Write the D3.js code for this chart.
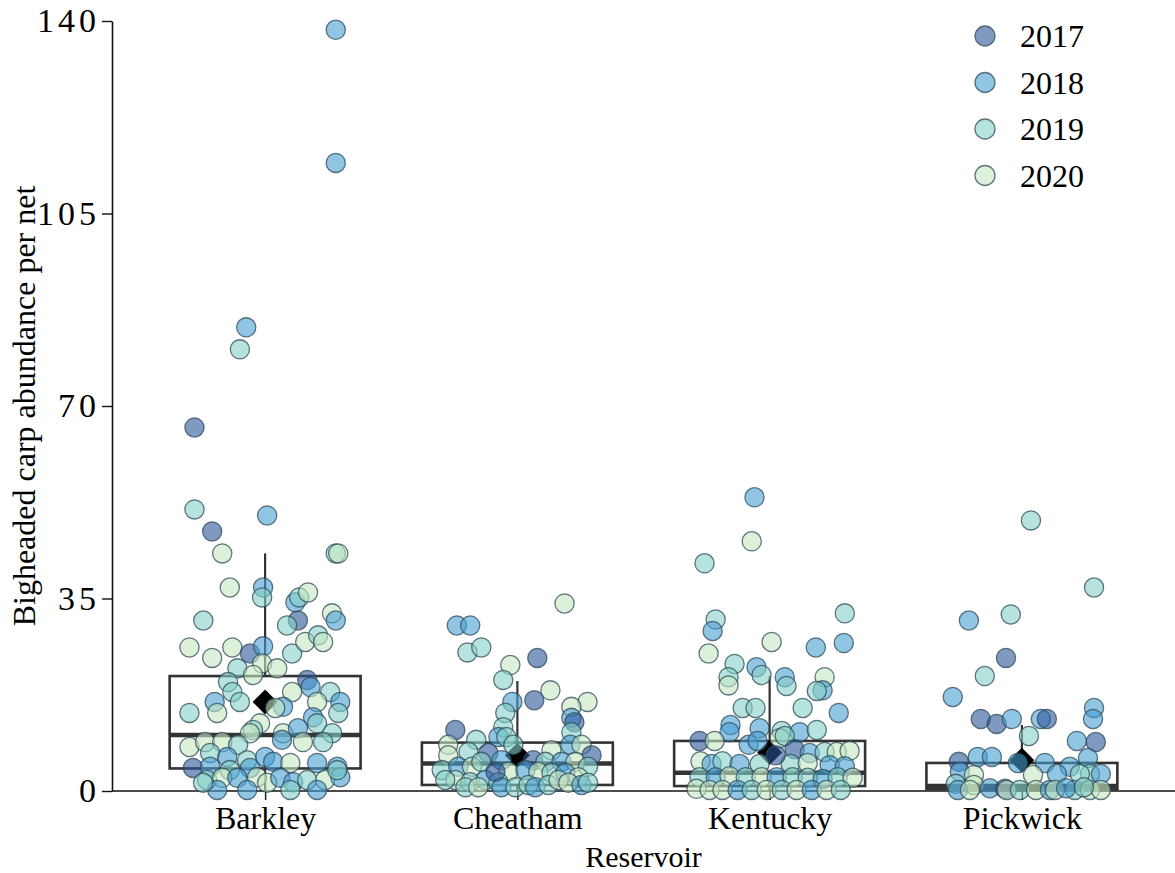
<!DOCTYPE html>
<html>
<head>
<meta charset="utf-8">
<script src="https://cdn.jsdelivr.net/npm/d3@7"></script>
<style>
  html, body { margin: 0; padding: 0; background: #fff; }
  svg { display: block; }
  text { font-family: "Liberation Serif", "Times New Roman", serif; fill: #000; }
</style>
</head>
<body>
<svg id="chart" width="1175" height="873"></svg>
<script>
// Reservoirs and sampling years
const reservoirs = ["Barkley", "Cheatham", "Kentucky", "Pickwick"];
const years = ["2017", "2018", "2019", "2020"];
const yTicks = [0, 35, 70, 105, 140];

// Box-plot summaries per reservoir
const boxQ1 = [4.1, 1.1, 0.9, 0.3];
const boxMedian = [10.2, 5.0, 3.3, 0.9];
const boxQ3 = [20.9, 8.8, 9.1, 5.1];
const whiskerLow = [0, 0, 0, 0];
const whiskerHigh = [43.2, 20.0, 20.9, 12.0];
const meanValue = [16.2, 6.5, 7.0, 5.6];

// Per-net catches: [jitter (fraction of category step), abundance, year]
const barkleyPoints = [
  [0.28,138.4,"2018"],[0.28,114.2,"2018"],[-0.075,84.3,"2018"],[-0.10,80.3,"2019"],
  [-0.28,66.1,"2017"],[-0.28,51.2,"2019"],[-0.21,47.2,"2017"],[0.008,50.1,"2018"],
  [-0.17,43.2,"2020"],[0.28,43.2,"2019"],[0.29,43.2,"2020"],[-0.14,37.0,"2020"],
  [-0.008,37.0,"2018"],[-0.012,35.2,"2019"],[0.12,34.3,"2018"],[0.135,35.2,"2019"],
  [0.17,36.1,"2020"],[0.13,31.0,"2017"],[0.087,30.1,"2019"],[0.265,32.3,"2020"],
  [0.28,31.0,"2018"],[-0.245,31.0,"2019"],[-0.30,26.1,"2020"],[-0.21,24.2,"2020"],
  [-0.13,26.1,"2020"],[-0.06,25.0,"2017"],[-0.008,26.3,"2018"],[0.107,25.0,"2019"],
  [0.159,27.1,"2020"],[0.21,28.3,"2019"],[0.23,27.1,"2020"],[-0.012,23.2,"2020"],
  [-0.11,22.3,"2019"],[-0.048,21.1,"2020"],[0.048,22.3,"2020"],[-0.147,19.8,"2019"],
  [-0.13,18.0,"2019"],[-0.10,16.2,"2019"],[-0.2,16.2,"2018"],[-0.19,14.2,"2020"],
  [-0.30,14.2,"2019"],[0.167,20.2,"2017"],[0.18,18.9,"2018"],[0.107,18.0,"2020"],
  [0.258,18.0,"2019"],[0.298,16.2,"2018"],[0.29,14.2,"2019"],[0.206,16.2,"2020"],
  [0.071,15.3,"2018"],[0.04,15.1,"2020"],[0.19,13.4,"2018"],[0.206,12.3,"2019"],
  [-0.02,12.3,"2020"],[-0.048,11.1,"2019"],[-0.06,10.5,"2020"],[0.071,10.5,"2020"],
  [0.13,11.4,"2018"],[0.266,10.5,"2019"],[0.15,8.9,"2020"],[0.067,9.3,"2018"],
  [0.23,8.9,"2019"],[-0.30,8.0,"2020"],[-0.238,8.9,"2020"],[-0.17,8.9,"2020"],
  [-0.107,8.4,"2019"],[-0.218,6.9,"2019"],[-0.15,6.2,"2018"],[-0.071,5.6,"2019"],
  [0,6.2,"2018"],[0.032,5.3,"2018"],[0.1,5.1,"2020"],[0.206,5.1,"2018"],
  [0.286,4.4,"2018"],[-0.286,4.2,"2017"],[-0.218,4.4,"2018"],[-0.14,3.8,"2019"],
  [-0.06,4.2,"2018"],[-0.23,2.0,"2019"],[-0.17,2.4,"2020"],[-0.11,2.4,"2018"],
  [-0.032,2.5,"2020"],[0.008,1.5,"2020"],[0.06,2.4,"2018"],[0.111,1.6,"2018"],
  [0.167,2.0,"2019"],[0.238,2.0,"2020"],[0.298,2.5,"2018"],[-0.19,0.2,"2018"],
  [-0.071,0.2,"2018"],[0.1,0.2,"2019"],[0.206,0.2,"2018"],[-0.246,1.5,"2019"],
  [0.286,3.8,"2019"]
];
const cheathamPoints = [
  [0.187,34.1,"2020"],[-0.24,30.1,"2018"],[-0.187,30.1,"2018"],[-0.198,25.2,"2019"],
  [-0.143,26.1,"2019"],[-0.028,22.9,"2020"],[0.079,24.2,"2017"],[-0.056,20.2,"2019"],
  [0.131,18.3,"2020"],[0.278,16.2,"2020"],[0.067,16.5,"2017"],[-0.02,16.2,"2018"],
  [0.214,15.3,"2020"],[-0.048,14.2,"2019"],[0.214,13.3,"2018"],[0.226,12.5,"2017"],
  [-0.246,11.1,"2017"],[-0.056,11.6,"2019"],[0.214,10.7,"2019"],[-0.075,9.8,"2018"],
  [-0.044,9.8,"2019"],[-0.163,9.3,"2019"],[-0.274,8.4,"2020"],[-0.016,8.4,"2019"],
  [0.135,7.4,"2020"],[0.21,8.4,"2018"],[0.254,8.4,"2020"],[0.294,6.5,"2017"],
  [-0.274,6.5,"2020"],[-0.194,7.1,"2019"],[-0.115,6.9,"2017"],[-0.063,5.6,"2018"],
  [0.063,5.6,"2017"],[0.111,5.3,"2019"],[0.175,5.3,"2018"],[0.23,5.3,"2020"],
  [0.28,4.4,"2019"],[-0.3,3.8,"2019"],[-0.234,4.4,"2018"],[-0.18,4.4,"2020"],
  [-0.143,5.3,"2019"],[-0.036,3.5,"2020"],[0.032,3.8,"2018"],[0.083,3.5,"2020"],
  [0.135,3.3,"2019"],[0.19,3.3,"2018"],[0.242,2.5,"2020"],[-0.246,2.0,"2020"],
  [-0.187,1.6,"2019"],[-0.127,2.0,"2018"],[-0.075,1.6,"2019"],[-0.063,0.7,"2018"],
  [-0.008,0.7,"2019"],[0.044,1.1,"2019"],[0.071,0.7,"2018"],[0.123,1.1,"2019"],
  [0.163,2.0,"2020"],[0.202,1.5,"2020"],[0.254,1.1,"2018"],[0.28,1.5,"2019"],
  [-0.286,2.0,"2019"],[-0.206,0.7,"2019"],[-0.155,0.7,"2020"],[-0.087,3.5,"2017"]
];
const kentuckyPoints = [
  [-0.06,53.4,"2018"],[-0.071,45.4,"2020"],[-0.258,41.4,"2019"],[0.298,32.3,"2019"],
  [-0.214,31.2,"2019"],[-0.226,29.1,"2018"],[0.008,27.1,"2020"],[0.183,26.1,"2018"],
  [0.294,26.9,"2018"],[-0.242,25.0,"2020"],[-0.139,23.1,"2019"],[-0.052,22.5,"2018"],
  [-0.032,21.1,"2019"],[-0.163,20.7,"2019"],[-0.163,19.2,"2020"],[0.06,20.7,"2018"],
  [0.067,19.1,"2019"],[0.218,20.7,"2020"],[0.21,18.3,"2018"],[0.187,18.2,"2019"],
  [-0.107,15.1,"2019"],[-0.056,15.1,"2019"],[0.131,15.1,"2019"],[0.274,14.2,"2018"],
  [-0.155,12.0,"2018"],[-0.159,10.7,"2018"],[-0.04,11.4,"2018"],[0.048,10.9,"2019"],
  [0.119,10.7,"2018"],[0.187,11.1,"2019"],[0.04,9.6,"2020"],[0.06,10.0,"2019"],
  [-0.278,9.1,"2017"],[-0.218,9.1,"2020"],[-0.083,8.4,"2018"],[-0.048,9.1,"2018"],
  [0.099,7.6,"2017"],[0.159,6.9,"2018"],[0.218,7.1,"2019"],[0.266,7.1,"2020"],
  [0.317,7.3,"2020"],[-0.274,5.4,"2020"],[-0.23,4.9,"2018"],[-0.187,5.4,"2019"],
  [-0.119,4.9,"2018"],[-0.04,4.9,"2019"],[0.083,4.9,"2019"],[0.151,5.1,"2020"],
  [0.238,4.7,"2018"],[0.298,4.5,"2018"],[-0.278,2.5,"2019"],[-0.214,2.5,"2018"],
  [-0.159,2.7,"2020"],[-0.095,2.5,"2019"],[-0.032,2.5,"2020"],[0.028,2.5,"2018"],
  [0.091,2.5,"2019"],[0.151,2.4,"2019"],[0.21,2.2,"2018"],[0.27,2.5,"2019"],
  [0.329,2.4,"2020"],[-0.29,0.4,"2020"],[-0.238,0.2,"2020"],[-0.187,0.2,"2020"],
  [-0.127,0.2,"2018"],[-0.071,0.2,"2019"],[-0.012,0.2,"2020"],[0.048,0.2,"2019"],
  [0.107,0.2,"2020"],[0.167,0.2,"2018"],[0.226,0.2,"2020"],[0.282,0.2,"2019"],
  [0.024,6.5,"2017"]
];
const pickwickPoints = [
  [0.036,49.2,"2019"],[0.286,37.0,"2019"],[-0.21,31.0,"2018"],[-0.044,32.1,"2019"],
  [-0.063,24.2,"2017"],[-0.147,20.9,"2019"],[-0.274,17.1,"2018"],[-0.163,13.1,"2017"],
  [-0.1,12.2,"2017"],[-0.04,13.1,"2018"],[0.075,13.1,"2018"],[0.099,13.1,"2017"],
  [0.286,15.1,"2018"],[0.282,13.1,"2018"],[0.028,10.0,"2019"],[0.218,9.1,"2018"],
  [0.293,8.9,"2017"],[-0.175,6.2,"2018"],[-0.119,6.2,"2018"],[-0.25,5.3,"2017"],
  [-0.016,5.1,"2018"],[0.091,5.1,"2018"],[0.262,6.0,"2018"],[0.19,4.4,"2018"],
  [-0.246,3.5,"2018"],[0.139,3.1,"2018"],[0.27,3.1,"2019"],[0.313,3.1,"2018"],
  [0.23,3.1,"2019"],[-0.19,2.9,"2020"],[0.044,2.9,"2020"],[-0.262,1.3,"2019"],
  [-0.19,1.1,"2020"],[-0.127,0.5,"2018"],[-0.067,0.4,"2017"],[-0.254,0.2,"2018"],
  [-0.06,0.2,"2020"],[-0.008,0.2,"2019"],[0.056,0.2,"2020"],[0.111,0.2,"2018"],
  [0.131,0.2,"2020"],[0.21,0.2,"2019"],[0.27,0.2,"2020"],[0.313,0.2,"2020"],
  [-0.206,0.2,"2020"],[0.175,0.5,"2018"],[0.246,0.7,"2019"]
];
const pointsByReservoir = [barkleyPoints, cheathamPoints, kentuckyPoints, pickwickPoints];

// Year colours (drawn semi-transparent)
const yearColors = ["#2a5597", "#479fd2", "#86d0c6", "#c6e8c2"];

const svg = d3.select("#chart");
const margin = { left: 112, right: 0, top: 21, bottom: 82 };
const W = 1175, H = 873;
const fontSize = 32;

const x = d3.scalePoint().domain(reservoirs)
  .range([margin.left, W - margin.right]).padding(0.607);
const step = x.step();
const y = d3.scaleLinear().domain([0, 140]).range([H - margin.bottom, margin.top]);
const color = d3.scaleOrdinal().domain(years).range(yearColors);

// Axes
const yAxis = svg.append("g")
  .attr("transform", `translate(${margin.left},0)`)
  .call(d3.axisLeft(y).tickValues(yTicks).tickSize(10).tickPadding(2).tickSizeOuter(0));
const xAxis = svg.append("g")
  .attr("transform", `translate(0,${y(0)})`)
  .call(d3.axisBottom(x).tickSize(9).tickPadding(6).tickSizeOuter(0));
[xAxis, yAxis].forEach(g => {
  g.select(".domain").attr("stroke", "#111").attr("stroke-width", 1.6);
  g.selectAll(".tick line").attr("stroke", "#111").attr("stroke-width", 1.4);
  g.selectAll(".tick text").attr("font-family", "Liberation Serif, serif")
    .attr("font-size", fontSize).attr("fill", "#000");
});
yAxis.selectAll(".tick text").attr("font-size", 34).attr("letter-spacing", 4);
xAxis.select(".domain").attr("d", `M${margin.left},0H${W}`);

// Box plots
const boxW = 0.757 * step;
const boxes = svg.append("g");
reservoirs.forEach((r, i) => {
  const cx = x(r);
  const g = boxes.append("g").attr("stroke", "#333").attr("fill", "none");
  g.append("line").attr("x1", cx).attr("x2", cx)
    .attr("y1", y(boxQ3[i])).attr("y2", y(whiskerHigh[i])).attr("stroke-width", 2.2);
  g.append("line").attr("x1", cx).attr("x2", cx)
    .attr("y1", y(boxQ1[i])).attr("y2", y(whiskerLow[i])).attr("stroke-width", 2.2);
  g.append("rect").attr("x", cx - boxW / 2).attr("width", boxW)
    .attr("y", y(boxQ3[i])).attr("height", y(boxQ1[i]) - y(boxQ3[i]))
    .attr("stroke-width", 2.6);
  g.append("line").attr("x1", cx - boxW / 2).attr("x2", cx + boxW / 2)
    .attr("y1", y(boxMedian[i])).attr("y2", y(boxMedian[i])).attr("stroke-width", 4.5);
});

// Means as diamonds
svg.append("g").selectAll("path").data(reservoirs).join("path")
  .attr("d", d3.symbol().type(d3.symbolDiamond2).size(400))
  .attr("transform", (r, i) => `translate(${x(r)},${y(meanValue[i])})`)
  .attr("fill", "#000");

// Jittered points
const pts = [];
reservoirs.forEach((r, i) => pointsByReservoir[i].forEach(p => pts.push({ r, j: p[0], v: p[1], yr: p[2] })));
svg.append("g").selectAll("circle").data(pts).join("circle")
  .attr("cx", d => x(d.r) + d.j * step)
  .attr("cy", d => y(d.v))
  .attr("r", 9.6)
  .attr("fill", d => color(d.yr))
  .attr("fill-opacity", 0.6)
  .attr("stroke", "#2e4a58")
  .attr("stroke-opacity", 0.75)
  .attr("stroke-width", 1.3);

// Axis titles
svg.append("text").attr("x", (margin.left + W) / 2).attr("y", 867)
  .attr("text-anchor", "middle").attr("font-size", fontSize - 2).text("Reservoir");
svg.append("text")
  .attr("transform", `translate(35,${(y(0) + y(140)) / 2}) rotate(-90)`)
  .attr("text-anchor", "middle").attr("font-size", fontSize).text("Bigheaded carp abundance per net");

// Legend
const legend = svg.append("g").attr("transform", "translate(985,36)");
years.forEach((yr, i) => {
  const row = legend.append("g").attr("transform", `translate(0,${i * 46.5})`);
  row.append("circle").attr("r", 10).attr("fill", color(yr)).attr("fill-opacity", 0.6)
    .attr("stroke", "#2e4a58").attr("stroke-opacity", 0.75).attr("stroke-width", 1.3);
  row.append("text").attr("x", 35).attr("y", 11).attr("font-size", fontSize).text(yr);
});
</script>
</body>
</html>
